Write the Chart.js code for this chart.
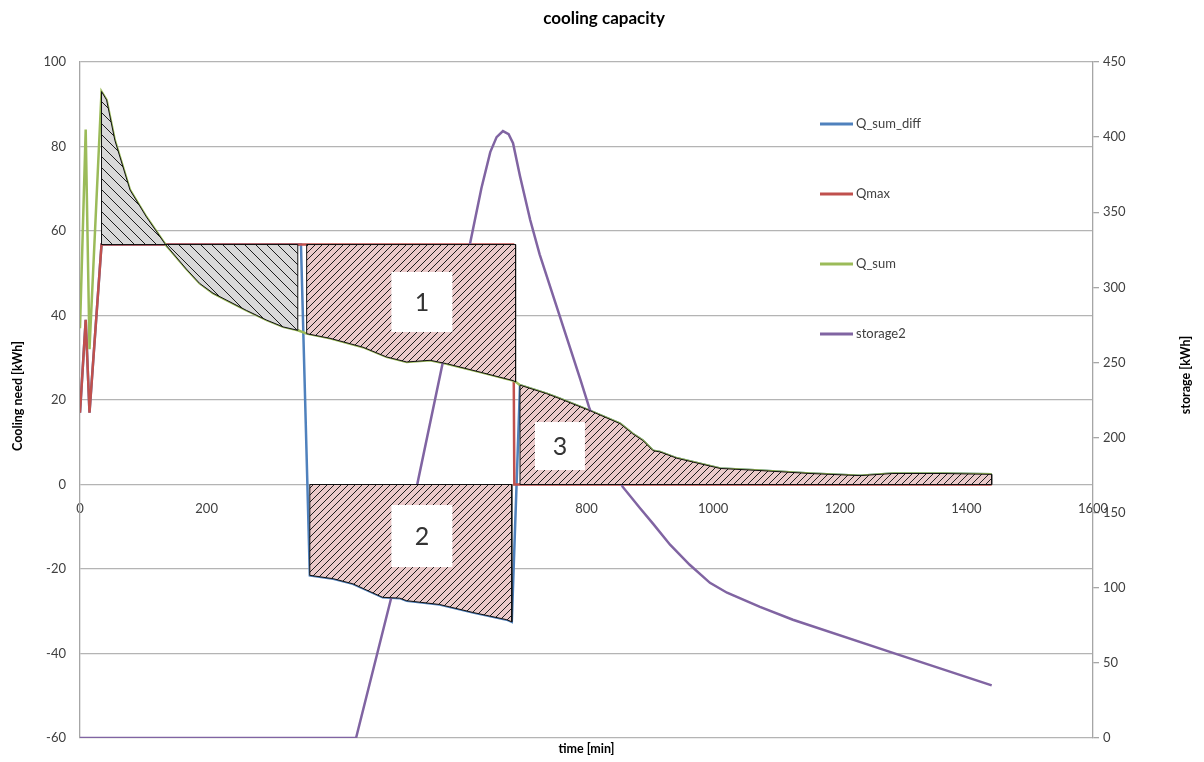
<!DOCTYPE html>
<html><head><meta charset="utf-8">
<script src="https://cdn.jsdelivr.net/npm/chart.js@4.4.0/dist/chart.umd.min.js"></script>
<style>html,body{margin:0;padding:0;background:#fff;} #wrap{width:1204px;height:762px;position:relative;}</style>
</head><body><div id="wrap"><canvas id="c" width="1204" height="762"></canvas></div>
<script>
// ---------- data (minute, value) ----------
const seriesNames = ['Q_sum_diff', 'Qmax', 'Q_sum', 'storage2'];

const qSum = [[0,37],[9,84],[15,32],[34,93],[42,91],[55,81.5],[79,69.7],[105,63.3],[134,57],[168,51],[189,47.6],[210,45.3],[232,43.6],[263,41.2],[295,38.9],[321,37.3],[344,36.5],[358,35.7],[395,34.6],[447,32.5],[484,30.2],[516,29],[553,29.4],[579,28.6],[632,26.6],[684,24.6],[688,24.3],[695,23.5],[737,21.5],[758,20.3],[805,17.5],[853,14.4],[873,12],[889,10.4],[905,8],[916,7.7],[943,6.2],[1011,3.8],[1074,3.3],[1153,2.6],[1232,2.1],[1284,2.6],[1363,2.6],[1440,2.4]];

const qMax = [[0,17],[9,39],[15,17],[34,56.8],[684,56.8],[686,0],[1440,0]];

const qSumDiff = [[0,17],[9,39],[15,17],[34,56.8],[349,56.8],[363,-21.5],[400,-22.3],[431,-23.5],[453,-25],[478,-26.7],[505,-26.9],[516,-27.5],[568,-28.4],[621,-30.3],[674,-32],[682,-32.5],[695,23.5],[737,21.5],[758,20.3],[805,17.5],[853,14.4],[873,12],[889,10.4],[905,8],[916,7.7],[943,6.2],[1011,3.8],[1074,3.3],[1153,2.6],[1232,2.1],[1284,2.6],[1363,2.6],[1440,2.4]];

const storage2 = [[0,0],[436,0],[492,94],[532,167.5],[573,250],[616,329],[634,366],[648,390],[658,400],[668,404],[677,402],[684,396],[695,374],[711,345],[726,322],[790,239],[805,219],[857,167.3],[884,153.3],[905,142.7],[932,128.7],[963,115.3],[995,103.3],[1022,96.7],[1074,87.3],[1126,78.7],[1284,56.7],[1440,35]];

// hatched regions: minute ranges
const regionRanges = [[34,344],[358,688],[363,682],[695,1440]];
const regionTexts = ['1','2','3'];

// tick labels
const xTicks = [0,200,400,600,800,1000,1200,1400,1600];
const yLeftTicks = [-60,-40,-20,0,20,40,60,80,100];
const yRightTicks = [0,50,100,150,200,250,300,350,400,450];

// ---------- helpers ----------
const pts = a => a.map(([x,y]) => ({x, y}));
const between = (a, lo, hi) => a.filter(p => p[0] >= lo && p[0] <= hi);
const qMaxLevel = qMax[3][1];

const [rA, r1, r2, r3] = regionRanges;
const regionA = [[rA[0],qMaxLevel], ...between(qSum,rA[0],rA[1]), [rA[1],qMaxLevel], [rA[0],qMaxLevel]];
const region1 = [[r1[0],qMaxLevel],[r1[1],qMaxLevel], ...between(qSum,r1[0],r1[1]).reverse(), [r1[0],qMaxLevel]];
const region2 = [[r2[0],0],[r2[1],0], ...between(qSumDiff,r2[0],r2[1]).reverse(), [r2[0],0]];
const region3 = [[r3[0],0], ...between(qSum,r3[0],r3[1]), [r3[1],0], [r3[0],0]];

function hatch(bg, size, dir) {
  const c = document.createElement('canvas');
  c.width = size; c.height = size;
  const g = c.getContext('2d');
  g.fillStyle = bg; g.fillRect(0,0,size,size);
  g.strokeStyle = '#1c1c1c'; g.lineWidth = 1;
  g.beginPath();
  if (dir === '/') {
    g.moveTo(0,size); g.lineTo(size,0);
    g.moveTo(-1,1); g.lineTo(1,-1);
    g.moveTo(size-1,size+1); g.lineTo(size+1,size-1);
  } else {
    g.moveTo(0,0); g.lineTo(size,size);
    g.moveTo(size-1,-1); g.lineTo(size+1,1);
    g.moveTo(-1,size-1); g.lineTo(1,size+1);
  }
  g.stroke();
  return g.createPattern(c,'repeat');
}
const pinkHatch = hatch('#ebcaca', 7, '/');
const grayHatch = hatch('#d9d9d9', 11, '\\');

const FONT = 'Lato, "Open Sans", sans-serif';
const TXT = '#404040';
const colors = ['#4F81BD','#C0504D','#9BBB59','#8064A2'];

function regionDs(data, pattern) {
  return {type:'line', data: pts(data), yAxisID:'y', fill:'shape', backgroundColor: pattern,
    borderColor:'#111', borderWidth:1, pointRadius:0, tension:0, order:0};
}

const regionLabelSpecs = [
  {x:540, y:43.2, w:61, h:60},
  {x:540, y:-12.2, w:61, h:62},
  {x:758, y:9.1, w:50, h:48}
];

const decor = {
  id:'decor',
  afterDatasetsDraw(chart) {
    const ctx = chart.ctx, xs = chart.scales.x, ys = chart.scales.y;
    ctx.save();
    regionLabelSpecs.forEach((s,i) => {
      const px = xs.getPixelForValue(s.x), py = ys.getPixelForValue(s.y);
      ctx.fillStyle = '#fff';
      ctx.fillRect(px - s.w/2, py - s.h/2, s.w, s.h);
      ctx.fillStyle = '#333';
      ctx.font = '25px ' + FONT;
      ctx.textAlign = 'center'; ctx.textBaseline = 'middle';
      ctx.fillText(regionTexts[i], px, py + 1);
    });
    ctx.restore();
  },
  afterDraw(chart) {
    const ctx = chart.ctx, a = chart.chartArea;
    ctx.save();
    ctx.fillStyle = '#000';
    ctx.font = 'bold 17px ' + FONT;
    ctx.textAlign = 'center'; ctx.textBaseline = 'middle';
    ctx.fillText('cooling capacity', 604, 19);
    ctx.font = 'bold 12.5px ' + FONT;
    ctx.fillText('time [min]', (a.left + a.right)/2, 749);
    ctx.save(); ctx.translate(18, 396); ctx.rotate(-Math.PI/2);
    ctx.fillText('Cooling need [kWh]', 0, 0); ctx.restore();
    ctx.save(); ctx.translate(1186, 375); ctx.rotate(-Math.PI/2);
    ctx.fillText('storage [kWh]', 0, 0); ctx.restore();
    const ly = [124, 194, 264, 334];
    ctx.font = '13px ' + FONT; ctx.textAlign = 'left';
    seriesNames.forEach((n,i) => {
      ctx.strokeStyle = colors[i]; ctx.lineWidth = 3;
      ctx.beginPath(); ctx.moveTo(820, ly[i]); ctx.lineTo(853, ly[i]); ctx.stroke();
      ctx.fillStyle = TXT;
      ctx.fillText(n, 856, ly[i]);
    });
    ctx.restore();
  }
};

Chart.defaults.font.family = FONT;
Chart.defaults.color = TXT;

new Chart(document.getElementById('c'), {
  type: 'line',
  data: {
    datasets: [
      regionDs(regionA, grayHatch),
      regionDs(region1, pinkHatch),
      regionDs(region2, pinkHatch),
      regionDs(region3, pinkHatch),
      {label: seriesNames[3], data: pts(storage2), yAxisID:'y2', borderColor: colors[3], borderWidth:2.5, pointRadius:0, tension:0, fill:false, order:1},
      {label: seriesNames[2], data: pts(qSum), yAxisID:'y', borderColor: colors[2], borderWidth:2.5, pointRadius:0, tension:0, fill:false, order:2},
      {label: seriesNames[1], data: pts(qMax), yAxisID:'y', borderColor: colors[1], borderWidth:2.5, pointRadius:0, tension:0, fill:false, order:3},
      {label: seriesNames[0], data: pts(qSumDiff), yAxisID:'y', borderColor: colors[0], borderWidth:2.5, pointRadius:0, tension:0, fill:false, order:4}
    ]
  },
  options: {
    responsive: false,
    animation: false,
    events: [],
    layout: {padding: {top: 62, bottom: 24, left: 0, right: 0}},
    plugins: {legend: {display:false}, tooltip: {enabled:false}, title: {display:false}},
    scales: {
      x: {
        type:'linear', position:{y:0},
        min: xTicks[0], max: xTicks[xTicks.length-1],
        afterBuildTicks: s => { s.ticks = xTicks.map(v => ({value:v})); },
        ticks: {padding:17, font:{size:13}, color:TXT, maxRotation:0, autoSkip:false, callback: v => String(v)},
        grid: {display:false, drawTicks:false},
        border: {display:false}
      },
      y: {
        position:'left',
        min: yLeftTicks[0], max: yLeftTicks[yLeftTicks.length-1],
        afterBuildTicks: s => { s.ticks = yLeftTicks.map(v => ({value:v})); },
        ticks: {padding:14, font:{size:13}, color:TXT, callback: v => String(v)},
        grid: {color:'#b4b4b4', lineWidth:1.3, drawTicks:false},
        border: {color:'#a6a6a6', width:1.3},
        afterFit: s => { s.width = 80; }
      },
      y2: {
        position:'right',
        min: yRightTicks[0], max: yRightTicks[yRightTicks.length-1],
        afterBuildTicks: s => { s.ticks = yRightTicks.map(v => ({value:v})); },
        ticks: {padding:4, font:{size:13}, color:TXT, callback: v => String(v)},
        grid: {drawOnChartArea:false, color:'#a6a6a6', tickLength:6, lineWidth:1.3},
        border: {color:'#a6a6a6', width:1.3},
        afterFit: s => { s.width = 111; }
      }
    }
  },
  plugins: [decor]
});
</script>
</body></html>
